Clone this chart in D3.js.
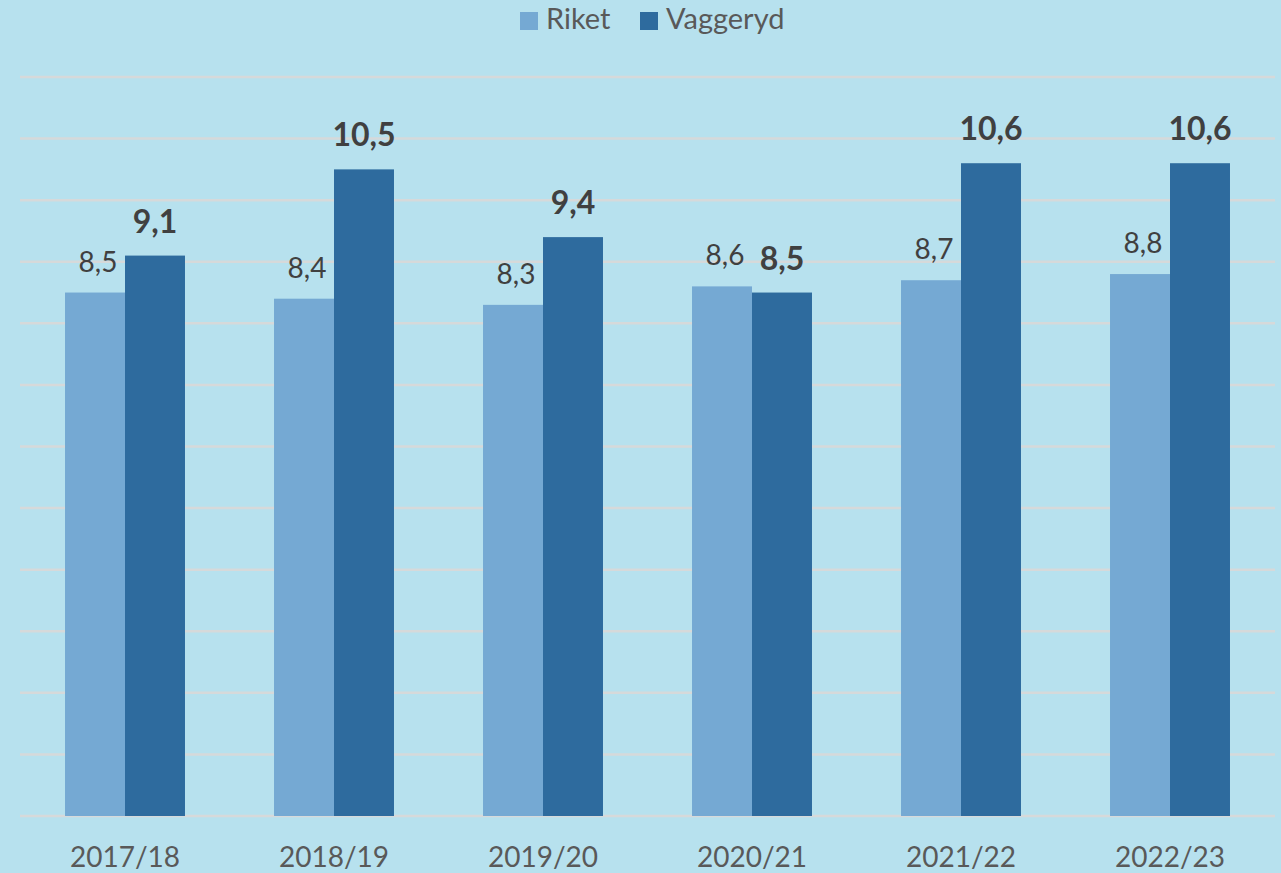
<!DOCTYPE html>
<html>
<head>
<meta charset="utf-8">
<script src="https://cdn.jsdelivr.net/npm/d3@7"></script>
<style>
  html, body { margin: 0; padding: 0; background: #B7E1EE; }
  svg { display: block; }
</style>
</head>
<body>
<div id="chart"></div>
<script>
const WIDTH = 1281;
const HEIGHT = 873;
const FONT = "Lato, 'Open Sans', sans-serif";

const years = ["2017/18", "2018/19", "2019/20", "2020/21", "2021/22", "2022/23"];
const seriesNames = ["Riket", "Vaggeryd"];
const riket = [8.5, 8.4, 8.3, 8.6, 8.7, 8.8];
const vaggeryd = [9.1, 10.5, 9.4, 8.5, 10.6, 10.6];
const yTicks = [0, 1, 2, 3, 4, 5, 6, 7, 8, 9, 10, 11, 12];

const colors = { Riket: "#75A9D3", Vaggeryd: "#2E6B9E" };

const rows = years.map((year, i) => ({
  year,
  values: [
    { key: "Riket", value: riket[i] },
    { key: "Vaggeryd", value: vaggeryd[i] },
  ],
}));

const svg = d3
  .select("#chart")
  .append("svg")
  .attr("width", WIDTH)
  .attr("height", HEIGHT)
  .style("font-family", FONT);

svg.append("rect").attr("width", WIDTH).attr("height", HEIGHT).attr("fill", "#B7E1EE");

const x0 = d3
  .scaleBand()
  .domain(years)
  .range([20.5, 1274.5])
  .paddingInner(0.426)
  .paddingOuter(0.213);

const x1 = d3.scaleBand().domain(seriesNames).range([0, x0.bandwidth()]);

const y = d3.scaleLinear().domain([0, 12]).range([816, 77]);

// gridlines
svg
  .append("g")
  .selectAll("line")
  .data(yTicks)
  .join("line")
  .attr("x1", 20)
  .attr("x2", 1275)
  .attr("y1", (d) => y(d))
  .attr("y2", (d) => y(d))
  .attr("stroke", "#D6D9DA")
  .attr("stroke-width", 2.5);

const groups = svg
  .append("g")
  .selectAll("g")
  .data(rows)
  .join("g")
  .attr("transform", (d) => `translate(${x0(d.year)},0)`);

groups
  .selectAll("rect")
  .data((d) => d.values)
  .join("rect")
  .attr("x", (d) => x1(d.key))
  .attr("y", (d) => y(d.value))
  .attr("width", x1.bandwidth())
  .attr("height", (d) => y(0) - y(d.value))
  .attr("fill", (d) => colors[d.key]);

const fmt = (v) => d3.format(".1f")(v).replace(".", ",");

groups
  .selectAll("text")
  .data((d) => d.values)
  .join("text")
  .attr("x", (d) => x1(d.key) + x1.bandwidth() / 2 + (d.key === "Riket" ? 3 : 0))
  .attr("y", (d) => y(d.value) - (d.key === "Riket" ? 21 : 23))
  .attr("text-anchor", "middle")
  .attr("fill", "#404040")
  .attr("font-size", (d) => (d.key === "Riket" ? "28px" : "32px"))
  .attr("font-weight", (d) => (d.key === "Riket" ? "normal" : "bold"))
  .text((d) => fmt(d.value));

// x axis labels
svg
  .append("g")
  .selectAll("text")
  .data(years)
  .join("text")
  .attr("x", (d) => x0(d) + x0.bandwidth() / 2)
  .attr("y", 867)
  .attr("text-anchor", "middle")
  .attr("fill", "#595959")
  .attr("font-size", "28px")
  .text((d) => d);

// legend
const legend = svg.append("g");
const legendItems = [
  { key: "Riket", x: 520 },
  { key: "Vaggeryd", x: 640 },
];
legendItems.forEach((item) => {
  legend
    .append("rect")
    .attr("x", item.x)
    .attr("y", 12)
    .attr("width", 18)
    .attr("height", 18)
    .attr("fill", colors[item.key]);
  legend
    .append("text")
    .attr("x", item.x + 26)
    .attr("y", 29)
    .attr("fill", "#595959")
    .attr("font-size", "29px")
    .text(item.key);
});
</script>
</body>
</html>
